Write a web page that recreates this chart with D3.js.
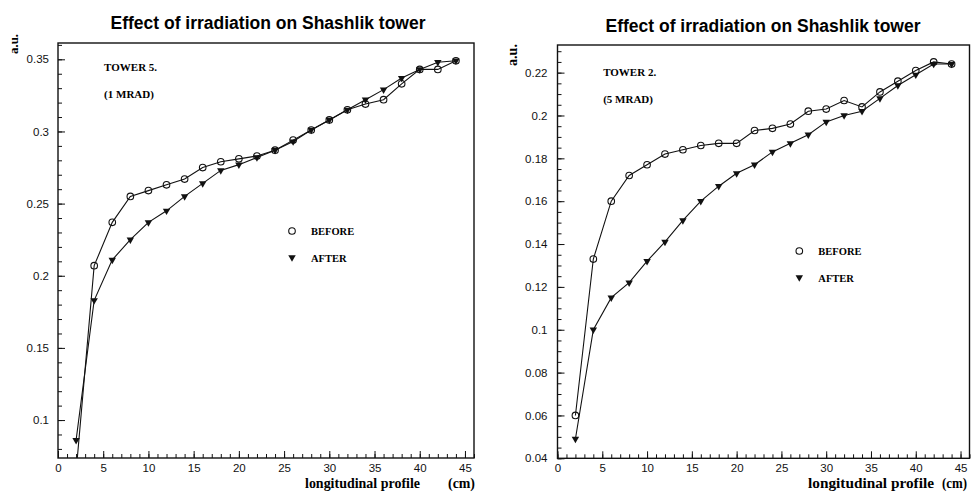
<!DOCTYPE html>
<html>
<head>
<meta charset="utf-8">
<script src="https://cdn.jsdelivr.net/npm/d3@7"></script>
<style>
  body { margin: 0; background: #fff; }
  svg { display: block; }
</style>
</head>
<body>
<div id="chart"></div>
<script>
// depth along the tower (cm)
var depth = [2, 4, 6, 8, 10, 12, 14, 16, 18, 20, 22, 24, 26, 28, 30, 32, 34, 36, 38, 40, 42, 44];

// tower 5, 1 Mrad
var tower5Before = [0.064, 0.207, 0.237, 0.255, 0.259, 0.263, 0.267, 0.275, 0.279, 0.281, 0.283,
                    0.287, 0.294, 0.301, 0.308, 0.315, 0.319, 0.322, 0.333, 0.343, 0.343, 0.349];
var tower5After  = [0.086, 0.183, 0.211, 0.225, 0.237, 0.245, 0.255, 0.264, 0.273, 0.277, 0.282,
                    0.287, 0.293, 0.301, 0.308, 0.315, 0.322, 0.329, 0.337, 0.343, 0.348, 0.349];

// tower 2, 5 Mrad
var tower2Before = [0.060, 0.133, 0.160, 0.172, 0.177, 0.182, 0.184, 0.186, 0.187, 0.187, 0.193,
                    0.194, 0.196, 0.202, 0.203, 0.207, 0.204, 0.211, 0.216, 0.221, 0.225, 0.224];
var tower2After  = [0.049, 0.100, 0.115, 0.122, 0.132, 0.141, 0.151, 0.160, 0.167, 0.173, 0.177,
                    0.183, 0.187, 0.191, 0.197, 0.200, 0.202, 0.208, 0.214, 0.219, 0.224, 0.224];

var xTicks = [0, 5, 10, 15, 20, 25, 30, 35, 40, 45];
var yTicks5 = [0.1, 0.15, 0.2, 0.25, 0.3, 0.35];
var yTicks2 = [0.04, 0.06, 0.08, 0.1, 0.12, 0.14, 0.16, 0.18, 0.2, 0.22];

var title = "Effect of irradiation on Shashlik tower";

var svg = d3.select("#chart").append("svg")
    .attr("width", 971)
    .attr("height", 496);

var panels = [
  {
    id: "p5", left: 58, right: 474, top: 43, bottom: 458,
    yDomain: [0.0737, 0.3613], yTicks: yTicks5, yMinor: 0.01,
    before: tower5Before, after: tower5After,
    tower: "TOWER 5.", dose: "(1 MRAD)", tagY: 71,
    titleX: 268, titleY: 29, auX: 18, auY: 44, auSize: 13,
    legX: 292, legY: 231, labPad: 9,
    xl1: [305, 115], xl2: [448, 27]
  },
  {
    id: "p2", left: 557.5, right: 969.5, top: 45, bottom: 458.3,
    yDomain: [0.04, 0.2329], yTicks: yTicks2, yMinor: 0.005,
    before: tower2Before, after: tower2After,
    tower: "TOWER 2.", dose: "(5 MRAD)", tagY: 76,
    titleX: 763, titleY: 32, auX: 516.5, auY: 55, auSize: 14,
    legX: 799.3, legY: 251, labPad: 10,
    xl1: [808, 126], xl2: [942, 25]
  }
];

panels.forEach(drawPanel);

function drawPanel(p) {
  var x = d3.scaleLinear().domain([0, 46]).range([p.left, p.right]);
  var y = d3.scaleLinear().domain(p.yDomain).range([p.bottom, p.top]);

  var g = svg.append("g");

  g.append("clipPath").attr("id", "clip-" + p.id)
    .append("rect")
      .attr("x", p.left).attr("y", p.top)
      .attr("width", p.right - p.left).attr("height", p.bottom - p.top);

  // minor ticks
  var yMinor = d3.range(Math.ceil(p.yDomain[0] / p.yMinor) * p.yMinor, p.yDomain[1], p.yMinor);
  g.append("g")
      .attr("transform", "translate(" + p.left + ",0)")
      .call(d3.axisLeft(y).tickValues(yMinor).tickSize(-4).tickFormat(""));
  g.append("g")
      .attr("transform", "translate(0," + p.bottom + ")")
      .call(d3.axisBottom(x).tickValues(d3.range(0, 47, 1)).tickSize(-4).tickFormat(""));

  // major ticks + labels
  g.append("g")
      .attr("class", "yaxis")
      .attr("transform", "translate(" + p.left + ",0)")
      .call(d3.axisLeft(y).tickValues(p.yTicks).tickSize(-7).tickPadding(p.labPad)
        .tickFormat(function(d) { return String(+d.toFixed(3)); }));
  g.append("g")
      .attr("class", "xaxis")
      .attr("transform", "translate(0," + p.bottom + ")")
      .call(d3.axisBottom(x).tickValues(xTicks).tickSize(-7).tickPadding(6));

  g.selectAll(".domain").remove();
  g.selectAll(".tick line").attr("stroke", "#111").attr("stroke-width", 1);
  g.selectAll(".tick text")
      .attr("fill", "#111")
      .style("font-family", "'Liberation Sans', Arial, sans-serif")
      .style("font-size", "11.5px");

  // frame
  g.append("rect")
      .attr("x", p.left).attr("y", p.top)
      .attr("width", p.right - p.left).attr("height", p.bottom - p.top)
      .attr("fill", "none").attr("stroke", "#111").attr("stroke-width", 1.4);

  var line = d3.line()
      .x(function(d, i) { return x(depth[i]); })
      .y(function(d) { return y(d); });

  var plot = g.append("g").attr("clip-path", "url(#clip-" + p.id + ")");

  [p.after, p.before].forEach(function(series) {
    plot.append("path")
        .datum(series)
        .attr("d", line)
        .attr("fill", "none")
        .attr("stroke", "#111")
        .attr("stroke-width", 1.1);
  });

  var tri = d3.symbol().type(d3.symbolTriangle).size(24);

  plot.selectAll(".after").data(p.after).enter().append("path")
      .attr("class", "after")
      .attr("d", tri)
      .attr("transform", function(d, i) { return "translate(" + x(depth[i]) + "," + y(d) + ") rotate(180)"; })
      .attr("fill", "#111");

  plot.selectAll(".before").data(p.before).enter().append("circle")
      .attr("class", "before")
      .attr("cx", function(d, i) { return x(depth[i]); })
      .attr("cy", function(d) { return y(d); })
      .attr("r", 3.3)
      .attr("fill", "none")
      .attr("stroke", "#111")
      .attr("stroke-width", 1.1);

  // titles and labels
  g.append("text")
      .attr("x", p.titleX).attr("y", p.titleY)
      .attr("text-anchor", "middle")
      .style("font-family", "'Liberation Sans', Arial, sans-serif")
      .style("font-weight", "bold")
      .style("font-size", "17.5px")
      .text(title);

  var serif = "'Liberation Serif', 'Times New Roman', serif";

  g.append("text")
      .attr("transform", "translate(" + p.auX + "," + p.auY + ") rotate(-90)")
      .attr("text-anchor", "middle")
      .style("font-family", serif).style("font-weight", "bold")
      .style("font-size", p.auSize + "px")
      .text("a.u.");

  g.append("text")
      .attr("x", x(5.1)).attr("y", p.tagY)
      .style("font-family", serif).style("font-weight", "bold").style("font-size", "11px")
      .text(p.tower);
  g.append("text")
      .attr("x", x(5.1)).attr("y", p.tagY + 27)
      .style("font-family", serif).style("font-weight", "bold").style("font-size", "11px")
      .text(p.dose);

  // legend
  g.append("circle")
      .attr("cx", p.legX).attr("cy", p.legY).attr("r", 3.3)
      .attr("fill", "none").attr("stroke", "#111").attr("stroke-width", 1.1);
  g.append("path")
      .attr("d", tri)
      .attr("transform", "translate(" + p.legX + "," + (p.legY + 26.5) + ") rotate(180)")
      .attr("fill", "#111");
  g.append("text")
      .attr("x", p.legX + 19).attr("y", p.legY + 4)
      .style("font-family", serif).style("font-weight", "bold").style("font-size", "10.5px")
      .text("BEFORE");
  g.append("text")
      .attr("x", p.legX + 19).attr("y", p.legY + 30.5)
      .style("font-family", serif).style("font-weight", "bold").style("font-size", "10.5px")
      .text("AFTER");

  // x axis label
  g.append("text")
      .attr("x", p.xl1[0]).attr("y", 488)
      .attr("textLength", p.xl1[1]).attr("lengthAdjust", "spacingAndGlyphs")
      .style("font-family", serif).style("font-weight", "bold").style("font-size", "15px")
      .text("longitudinal profile");
  g.append("text")
      .attr("x", p.xl2[0]).attr("y", 488)
      .attr("textLength", p.xl2[1]).attr("lengthAdjust", "spacingAndGlyphs")
      .style("font-family", serif).style("font-weight", "bold").style("font-size", "15px")
      .text("(cm)");
}
</script>
</body>
</html>
